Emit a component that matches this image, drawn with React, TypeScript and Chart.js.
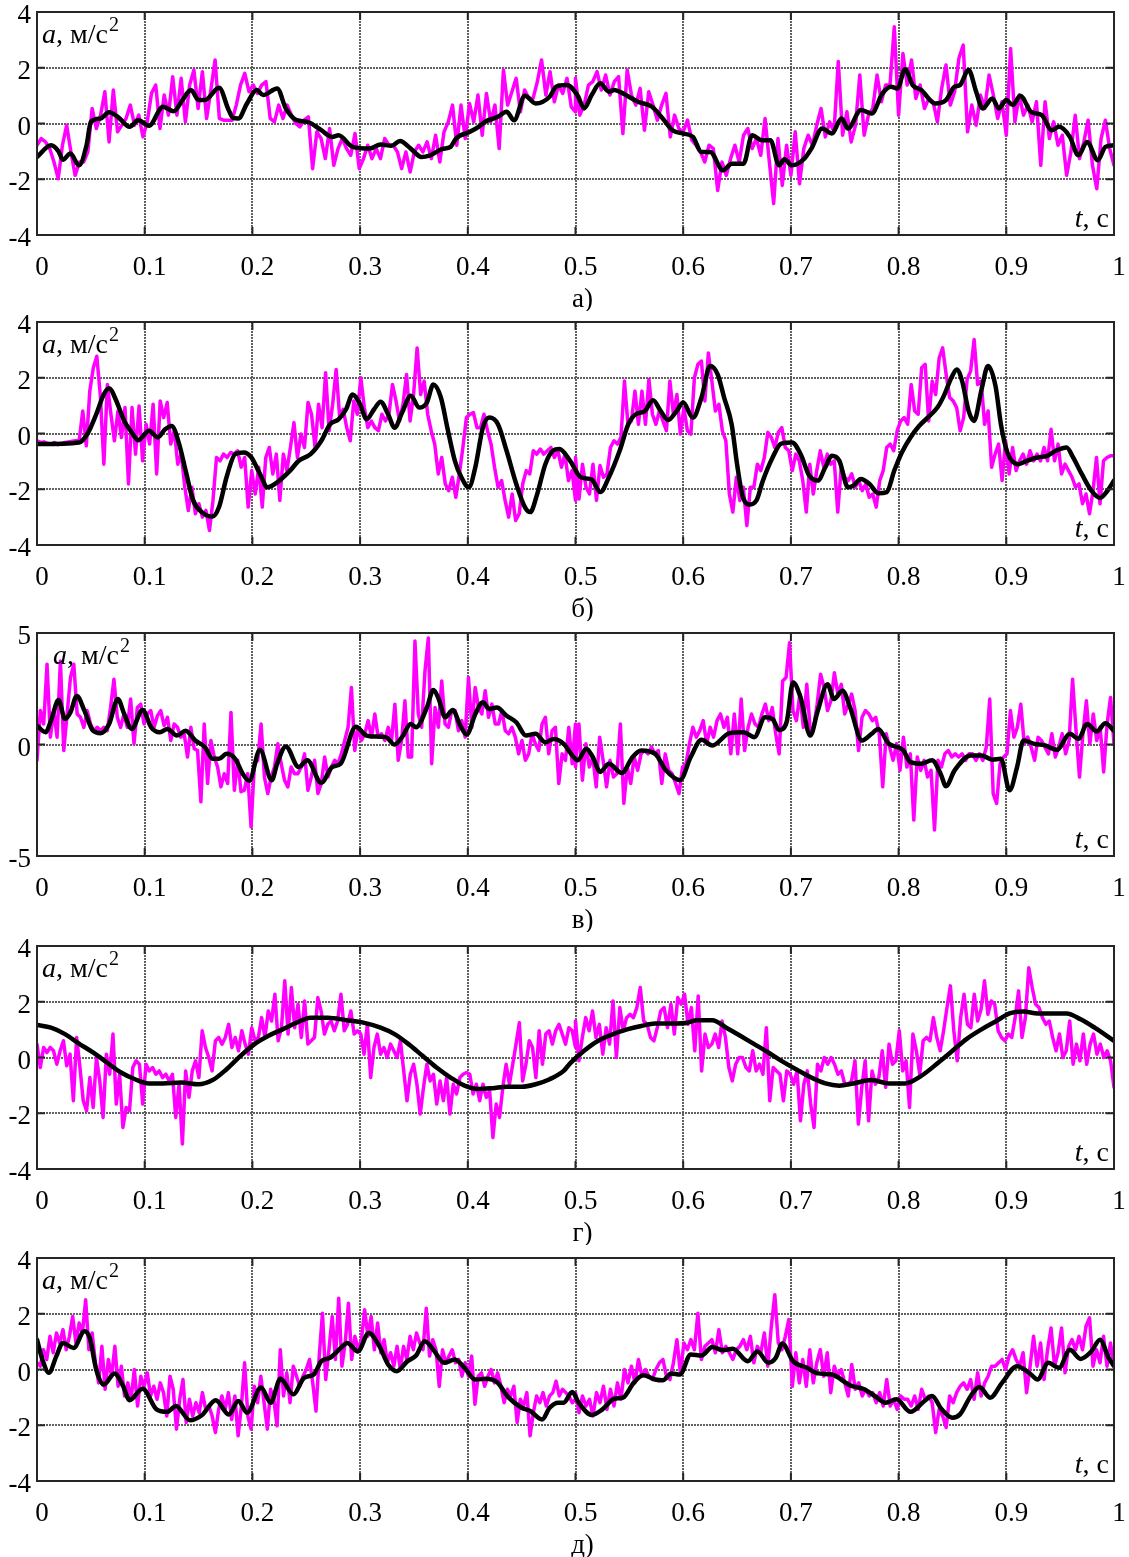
import React, { useEffect, useRef } from 'react';
import { Chart, registerables } from 'chart.js';
Chart.register(...registerables);

const FONT = "'Liberation Serif', 'Times New Roman', serif";

const xTickLabels = ['0', '0.1', '0.2', '0.3', '0.4', '0.5', '0.6', '0.7', '0.8', '0.9', '1'];
const captions = ['а)', 'б)', 'в)', 'г)', 'д)'];

// ---------- panel а ----------
const magA1 = [
  -0.78, -0.54, -0.66, -0.9, -1.38, -1.98, -0.78, -0.06, -1.02, -1.86,
  -1.38, -1.38, -1.02, 0.54, -0.18, 0.3, 1.14, -0.66, 1.2, -0.3,
  -0.06, 0.18, 0.66, -0.06, 0.3, -0.48, 0.06, 1.08, 1.38, -0.18,
  1.02, 0.3, 1.68, 0.3, 1.62, 0.06, 1.38, 1.92, 0.54, 1.86,
  0.18, 1.2, 2.28, 0.18, 0.12, 0.12, 0.12, 0.66, 1.38, 1.8,
  1.14, 1.38, 1.08, 1.38, 1.5, 0.18, 0.06, 0.66, 0.18, 0.66,
  0.3, 0, -0.12, 0.12, 0.24, -1.62, -0.3, -0.54, -1.26, -0.18,
  -1.5, -0.9, -0.54, -0.9, -1.14, -0.36, -1.62, -1.26, -0.78, -1.26,
  -0.9, -1.26, -0.54, -0.78, -0.78, -1.02, -1.62, -1.02, -1.74, -1.02,
  -0.78, -1.02, -0.66, -1.26, -0.42, -1.38, -0.3, 0.06, 0.66, -0.78,
  0.66, -0.54, 0.72, 0.06, 1.02, -0.42, 1.08, 0.06, 0.66, -0.9,
  1.92, 0.66, 1.14, 1.62, 0.42, 1.2, 0.9, 0.9, 1.5, 2.28,
  1.02, 1.86, 0.78, 1.38, 1.08, 1.62, 0.6, 0.42,
];
const magA2 = [
  1.62, 0.3, 0.66, 1.38, 1.5, 1.86, 1.2, 1.74, 1.02, 1.5,
  1.68, -0.36, 1.92, 1.02, 0.66, 1.26, -0.24, 1.14, 0.66, 0.12,
  0.66, 1.08, -0.48, 0.3, -0.18, -0.3, 0.12, -0.6, -0.78, -1.02,
  -1.38, -0.78, -0.9, -2.4, -1.38, -1.86, -1.26, -0.78, -1.38, -0.42,
  -0.18, -0.9, -0.54, -1.14, 0.18, -1.38, -2.87, -0.54, -2.22, -0.78,
  -1.86, -0.3, -2.16, -0.9, -0.42, -0.78, -0.06, 0.54, -0.48, 0.06,
  -0.3, 2.22, -0.42, 0.42, -0.66, -0.06, 1.74, -0.42, 0.3, 0.54,
  1.74, 0.78, 1.38, 1.38, 3.47, 0.3, 2.51, 1.38, 2.28, 0.9,
  1.38, 0.54, 0.9, 0.78, 0.06, 1.26, 2.1, 0.66, 1.14, 2.34,
  2.81, -0.3, 0.66, -0.06, 1.02, 0.54, 1.74, 1.02, 0.18, 0.78,
  -0.42, 2.69, 0.06, 1.02, 0.3, 0.66, 0.06, 0.78, -1.5, 0.78,
  -0.54, 0.06, -0.78, -0.42, -1.86, -1.02, 0.3, -1.26, -0.66, 0.12,
  -1.5, -2.34, -0.54, 0.12, -0.9, -1.5,
];
const blackA: [number, number][] = [
  [0, -1.2], [0.013, -0.78], [0.02, -1.0], [0.024, -1.3], [0.031, -1.08], [0.039, -1.5], [0.046, -0.78], [0.05, 0.06],
  [0.059, 0.18], [0.067, 0.4], [0.075, 0.24], [0.086, -0.12], [0.094, 0.12], [0.104, -0.08], [0.117, 0.6], [0.127, 0.44],
  [0.135, 0.84], [0.143, 1.2], [0.15, 0.84], [0.156, 0.84], [0.169, 1.28], [0.178, 0.48], [0.182, 0.2], [0.187, 0.18],
  [0.195, 0.72], [0.204, 1.2], [0.21, 1.02], [0.223, 1.26], [0.231, 0.54], [0.241, 0.12], [0.251, 0.06], [0.264, -0.24],
  [0.274, -0.48], [0.28, -0.42], [0.293, -0.84], [0.309, -0.9], [0.319, -0.75], [0.329, -0.8], [0.337, -0.63], [0.347, -0.9],
  [0.357, -1.2], [0.365, -1.14], [0.376, -0.92], [0.384, -0.84], [0.389, -0.54], [0.402, -0.3], [0.41, -0.12], [0.417, 0.08],
  [0.428, 0.24], [0.436, 0.42], [0.443, 0.12], [0.453, 1.0], [0.463, 0.72], [0.476, 0.96], [0.482, 1.32], [0.492, 1.38],
  [0.502, 1.0], [0.508, 0.54], [0.515, 1.02], [0.523, 1.44], [0.531, 1.14], [0.536, 1.2], [0.544, 1.08], [0.558, 0.78],
  [0.571, 0.6], [0.581, 0.18], [0.59, -0.24], [0.6, -0.36], [0.609, -0.48], [0.617, -1.02], [0.625, -1.02], [0.637, -1.68],
  [0.645, -1.44], [0.656, -1.44], [0.664, -0.42], [0.673, -0.6], [0.681, -0.6], [0.689, -1.5], [0.694, -1.28], [0.701, -1.5],
  [0.712, -1.28], [0.719, -0.9], [0.729, -0.18], [0.738, -0.36], [0.747, 0.18], [0.753, -0.18], [0.765, 0.48], [0.775, 0.36],
  [0.785, 1.08], [0.793, 1.32], [0.799, 1.26], [0.806, 1.95], [0.813, 1.38], [0.821, 1.2], [0.834, 0.72], [0.844, 0.84],
  [0.852, 1.32], [0.857, 1.38], [0.865, 1.92], [0.872, 1.14], [0.878, 0.54], [0.887, 0.9], [0.893, 0.54], [0.9, 0.84],
  [0.906, 0.66], [0.913, 1.0], [0.923, 0.42], [0.933, 0.3], [0.942, -0.24], [0.949, -0.12], [0.959, -0.48], [0.967, -1.14],
  [0.975, -0.66], [0.985, -1.32], [0.992, -0.84], [1.0, -0.78],
];

// ---------- panel б ----------
const magB1 = [
  -0.26, -0.32, -0.3, -0.36, -0.38, -0.32, -0.4, -0.36, -0.32, -0.3, -0.28, -0.26, -0.24,
  0.81, -0.44, 1.52, 2.36, 2.77, 1.35, -1.1, 1.76, 0.69, -0.26,
  0.81, -0.14, 0.93, -1.81, 0.93, -0.74, 0.99, -0.98, 0.33, -0.38,
  1.05, -1.45, 1.17, 0.57, 1.11, -0.38, 0.1, -1.1, -0.74, -1.93,
  -2.76, -1.93, -2.88, -2.52, -3.0, -2.76, -3.48, -2.4, -0.86, -0.98,
  -0.74, -0.86, -0.68, -0.74, -0.62, -1.21, -0.86, -2.64, -1.33, -2.17,
  -1.21, -2.64, -0.86, -0.5, -1.45, -0.74, -2.4, -0.74, -1.33, -0.5,
  0.39, -0.86, -0.02, -0.5, 1.11, 0.69, -0.5, 1.05, 0.21, 2.18,
  0.1, 1.05, 2.3, 0.57, 0.87, 0.21, -0.26, 1.17, 0.69, 2.0,
  0.93, 0.21, 0.45, 0.21, 0.1, 0.69, 0.45, 0.69, 1.76, 1.17,
  0.45, 1.05, 2.12, 0.45, 1.4, 3.07, 1.4, 1.88, 0.69, 0.1,
  -0.38, -1.45, -0.86, -1.81, -2.05, -1.57, -2.29, -1.45, -0.5, 0.57,
  0.69, 0.75, 0.21, 0.21, 0.69, 0.1, -0.38, -1.21, -1.93, -1.69,
  -2.4, -3.0, -2.17, -3.12, -2.88, -1.81, -1.33, -1.45, -0.62, -0.74,
  -0.56, -0.74, -0.62, -0.5, -0.86, -0.62, -1.21, -0.74, -1.69, -1.33, -2.4,
];
const magB2 = [
  -0.86, -2.35, -1.1, -1.93, -2.17, -1.1, -2.4, -1.15, -1.57, -1.45,
  -0.5, -0.26, -0.38, -0.14, 1.88, 0.33, 0.45, 1.52, 0.33, 1.52,
  0.33, 1.94, 0.69, 0.33, 0.81, 0.45, 0.1, 1.88, 0.69, 1.4,
  -0.02, 0.93, 0.1, -0.02, 2.0, 2.48, 2.6, 1.17, 2.89, 1.88,
  0.81, 1.05, 0.1, -0.26, -2.17, -2.82, -1.57, -2.4, -1.93, -3.3,
  -1.93, -1.93, -1.1, -1.33, -0.86, 0.04, -0.14, -0.5, 0.04, 0.21,
  -0.5, -0.62, -1.33, -0.74, -0.98, -1.69, -2.82, -1.1, -2.17, -1.33,
  -0.62, -1.21, -0.74, -1.1, -0.98, -2.82, -1.21, -1.57, -1.69, -1.45,
  -1.93, -1.69, -2.05, -1.81, -2.29, -2.17, -2.64, -1.69, -1.33, -0.5,
  -0.38, -0.62, 0.1, 0.45, 0.57, 0.33, 1.76, 0.81, 0.69, 2.36,
  2.48, 0.45, 1.88, 1.4, 2.71, 3.07, 2.12, 1.29, 1.17, 0.93,
  0.1, 0.57, 1.94, 2.24, 3.37, 1.76, 1.88, 0.33, 0.81, -1.21,
  -0.74, -0.38, -1.69, -0.26, -1.45, -0.5, -1.33, -0.98, -0.74, -1.1,
  -0.62, -0.98, -0.74, -0.98, -0.5, -0.98, 0.15, -0.98, -0.38, -1.45,
  -1.1, -1.33, -1.57, -1.93, -1.81, -2.52, -2.17, -2.88, -2.05, -0.86,
  -2.52, -0.98, -0.86, -0.8, -0.8,
];
const blackB: [number, number][] = [
  [0, -0.38], [0.039, -0.32], [0.047, 0], [0.055, 0.69], [0.062, 1.4], [0.067, 1.62], [0.073, 1.23], [0.081, 0.45],
  [0.088, 0.04], [0.094, -0.24], [0.104, 0.1], [0.112, -0.14], [0.119, 0.15], [0.125, 0.27], [0.132, -0.38], [0.138, -1.33],
  [0.145, -2.4], [0.153, -2.82], [0.163, -2.98], [0.169, -2.64], [0.176, -1.57], [0.184, -0.74], [0.192, -0.68], [0.199, -0.86],
  [0.207, -1.45], [0.214, -1.93], [0.221, -1.81], [0.235, -1.33], [0.243, -0.98], [0.254, -0.74], [0.264, -0.26], [0.272, 0.33],
  [0.28, 0.51], [0.287, 0.87], [0.293, 1.4], [0.3, 1.05], [0.306, 0.51], [0.313, 0.87], [0.319, 1.14], [0.326, 0.69],
  [0.332, 0.21], [0.339, 0.75], [0.347, 1.35], [0.355, 0.93], [0.362, 1.11], [0.368, 1.76], [0.375, 1.29], [0.381, 0.21],
  [0.388, -0.98], [0.394, -1.57], [0.401, -1.93], [0.407, -1.21], [0.414, 0.21], [0.42, 0.57], [0.428, 0.33], [0.436, -0.62],
  [0.445, -1.81], [0.453, -2.64], [0.458, -2.82], [0.464, -2.23], [0.472, -1.1], [0.479, -0.62], [0.485, -0.56], [0.495, -0.98],
  [0.505, -1.57], [0.515, -1.65], [0.523, -2.1], [0.531, -1.57], [0.541, -0.62], [0.549, 0.33], [0.556, 0.69], [0.564, 0.79],
  [0.572, 1.19], [0.579, 0.81], [0.586, 0.48], [0.594, 0.81], [0.6, 1.11], [0.609, 0.57], [0.617, 1.29], [0.625, 2.42],
  [0.632, 2.12], [0.638, 1.29], [0.645, 0.33], [0.65, -1.1], [0.655, -2.23], [0.661, -2.55], [0.668, -2.4], [0.674, -1.69],
  [0.683, -0.86], [0.691, -0.36], [0.701, -0.32], [0.709, -0.74], [0.717, -1.51], [0.725, -1.69], [0.732, -1.21], [0.738, -0.8],
  [0.745, -0.98], [0.753, -1.93], [0.758, -1.87], [0.765, -1.63], [0.773, -1.81], [0.781, -2.14], [0.789, -2.1], [0.796, -1.33],
  [0.803, -0.68], [0.811, -0.14], [0.819, 0.27], [0.827, 0.57], [0.836, 0.93], [0.842, 1.35], [0.849, 2.0], [0.854, 2.3],
  [0.859, 1.88], [0.865, 0.81], [0.87, 0.45], [0.877, 1.58], [0.883, 2.42], [0.89, 1.7], [0.895, 0.33], [0.901, -0.68],
  [0.911, -1.1], [0.919, -0.98], [0.929, -0.86], [0.938, -0.8], [0.946, -0.62], [0.956, -0.5], [0.962, -0.86], [0.97, -1.45],
  [0.979, -2.05], [0.987, -2.31], [0.993, -2.1], [1.0, -1.69],
];

// ---------- panel в ----------
const magC1 = [
  -0.71, 1.52, 0.92, 3.6, 0.33, 1.52, 0.33, 3.74, -0.27, 1.37,
  3.0, 3.6, 1.37, 1.22, 0.77, 1.52, 0.92, 0.62, 0.77, 0.62,
  0.77, 0.62, 1.66, 2.93, 1.22, 0.77, 1.37, 0.77, 2.04, 0.03,
  1.66, 1.81, 0.92, 1.37, 1.52, 0.77, 1.29, 1.52, 0.85, 1.22,
  0.18, 0.92, 0.77, 0.33, 0.48, -0.56, 0.77, -0.19, -0.27, -2.57,
  0.92, -1.75, 0.18, -0.56, -1.01, -1.9, -1.31, -1.75, 1.44, -2.05,
  -0.71, -2.12, -2.05, -1.31, -3.69, -0.86, -0.71, 0.92, -1.46, -2.2,
  -1.46, -1.01, 0.03, -0.86, -1.6, -1.9, -1.01, -1.31, -1.31, -1.01,
  -0.42, -2.05, -1.46, -0.71, -2.2, -1.75, -0.56, -1.46, -1.01, -0.71,
  -0.86, -0.42, 0.18, 0.77, 2.56, -0.27, 0.77, 0.18, 0.48, 1.07,
  0.33, 1.37, 0.33, 0.48, 0.18, 0.77, 0.18, 1.81, -0.71, 0.18,
  1.96, -0.56, -0.56, 4.64, 1.37, 0.77, 3.3, 4.78, -0.86, 1.66,
  0.77, 2.85, 0.92, 0.77, 1.52, 1.52, 0.62, 1.07, 0.33, 3.0,
  0.77, 2.56, 1.66, 1.37, 2.41, 1.22, 1.81, 0.92, 0.92, 1.52,
  0.62, 0.48, 0.77, 0.33, -0.42, 0.18, -0.71, -0.42, 0.48, 0.03,
  -0.27, 0.92, 1.22, -0.42, 0.62, 0.77, -1.75, -0.42, -0.71, 0.77,
  -0.86, 0.92,
];
const magC2 = [
  -1.01, 0.92, -1.6, 0.03, -1.01, -0.56, -1.9, 0.33, -0.71, -1.9,
  -0.71, -1.46, -1.31, 0.92, -2.64, -1.01, -1.75, -0.56, -1.16, -0.42,
  -0.27, -0.42, -0.12, -0.42, -0.27, -1.75, -0.42, -1.16, -1.31, -1.75,
  -2.2, -1.01, -0.86, 0.03, 0.77, 0.33, 0.62, 1.07, 0.03, 0.77,
  0.33, 1.07, 1.37, 0.77, 1.22, -0.42, 1.37, -0.42, 2.04, -0.27,
  0.77, 1.37, 0.92, 0.77, 1.37, 1.81, 1.07, 1.66, 0.48, -0.42,
  2.85, 3.0, 4.56, 1.52, 1.07, 2.26, 0.77, 2.7, 0.62, 0.77,
  1.81, 3.15, 2.56, 1.52, 1.96, 3.22, 2.26, 2.7, 1.37, 1.81,
  2.26, 1.52, -0.27, 1.22, 1.52, 1.37, 1.07, 1.22, 0.48, -1.9,
  0.48, -0.12, -0.71, 0.03, -1.16, 0.33, -1.01, -0.42, -3.39, -0.56,
  -1.16, -0.71, -1.46, -1.16, -3.83, -0.71, -1.01, -0.42, -0.27, -0.56,
  -0.42, -0.56, -0.42, -0.71, -0.42, -0.42, -0.71, -0.42, -0.71, -0.12,
  2.04, -2.2, -2.64, -0.86, -0.56, -0.42, 1.52, 0.33, 0.77, 1.81,
  0.03, 0.33, -0.12, -0.71, 0.33, 0.18, -0.12, -0.42, 0.48, -0.56,
  -0.12, 0.48, -0.42, 0.18, 2.93, 0.62, -1.46, 0.48, 1.96, 0.03,
  1.37, 0.18, 0.77, -1.23, 0.92, 2.11, 0.03,
];
const blackC: [number, number][] = [
  [0, 0.85], [0.008, 0.55], [0.013, 1.07], [0.02, 1.99], [0.026, 1.14], [0.031, 1.44], [0.037, 2.18], [0.044, 1.52],
  [0.052, 0.62], [0.059, 0.51], [0.067, 0.92], [0.075, 2.04], [0.081, 1.37], [0.088, 0.7], [0.098, 1.55], [0.106, 0.77],
  [0.114, 0.55], [0.121, 0.7], [0.13, 0.4], [0.138, 0.62], [0.147, 0.18], [0.156, -0.12], [0.163, -0.64], [0.169, -0.64],
  [0.176, -0.42], [0.184, -0.64], [0.191, -1.31], [0.197, -1.63], [0.207, -0.24], [0.218, -1.6], [0.223, -0.86], [0.231, -0.09],
  [0.243, -1.01], [0.251, -0.71], [0.264, -1.72], [0.274, -1.01], [0.282, -0.86], [0.296, 0.8], [0.306, 0.4], [0.314, 0.36],
  [0.324, 0.33], [0.332, 0], [0.339, 0.33], [0.347, 0.92], [0.352, 0.77], [0.362, 1.66], [0.368, 2.44], [0.373, 2.04],
  [0.379, 1.22], [0.386, 1.55], [0.393, 0.85], [0.399, 0.45], [0.407, 1.37], [0.414, 1.89], [0.42, 1.59], [0.427, 1.66],
  [0.436, 1.29], [0.445, 1.0], [0.454, 0.4], [0.463, 0.48], [0.472, 0.1], [0.48, 0.25], [0.489, 0.03], [0.497, -0.49],
  [0.502, -0.71], [0.51, -0.19], [0.516, -0.56], [0.523, -1.23], [0.531, -0.86], [0.543, -1.28], [0.553, -0.56], [0.561, -0.27],
  [0.574, -0.42], [0.584, -1.16], [0.597, -1.6], [0.607, -0.56], [0.617, 0.21], [0.627, -0.04], [0.643, 0.51], [0.656, 0.55],
  [0.666, 0.33], [0.676, 1.22], [0.683, 1.14], [0.689, 0.65], [0.696, 1.0], [0.702, 2.78], [0.709, 2.11], [0.718, 0.4],
  [0.725, 1.52], [0.734, 2.7], [0.74, 2.04], [0.748, 2.41], [0.755, 1.66], [0.766, 0.18], [0.775, 0.48], [0.781, 0.7],
  [0.791, 0.03], [0.804, -0.24], [0.811, -0.79], [0.821, -0.86], [0.831, -0.71], [0.839, -1.31], [0.844, -1.87], [0.852, -1.16],
  [0.867, -0.49], [0.877, -0.49], [0.887, -0.68], [0.895, -0.64], [0.903, -2.05], [0.91, -1.01], [0.916, 0.18], [0.926, 0.03],
  [0.936, -0.04], [0.947, -0.24], [0.959, 0.48], [0.967, 0.25], [0.975, 0.92], [0.984, 0.59], [0.992, 0.95], [1.0, 0.62],
];

// ---------- panel г ----------
const magD1 = [
  0.48, -0.36, 0.36, 0.18, 0.36, 0.24, -0.24, 0.24, 0.6, -0.3,
  0.12, -1.55, 0.72, -0.36, -1.55, -1.91, -0.72, -1.79, 0, -0.84,
  -2.15, 0.12, -0.6, 0.84, -1.67, -0.6, -2.51, -1.79, -1.91, -0.36,
  -0.12, -0.24, -1.67, -0.24, -0.48, -0.36, -0.6, -0.48, -0.72, -0.6,
  -0.84, -0.6, -2.15, -0.96, -3.1, -0.48, -1.43, -0.48, -0.12, -0.72,
  0.96, 0.36, 0, -0.48, 0.6, 0.72, 0.48, 0.72, 1.19, 0.36,
  0.72, 0.24, 0.96, 0.48, 0.12, 1.07, 0.6, 0.72, 1.43, 0.72,
  1.67, 1.31, 2.27, 0.6, 1.07, 2.75, 0.84, 2.51, 1.07, 1.91,
  0.72, 2.03, 0.48, 0.6, 0.72, 2.15, 1.67, 0.84, 1.19, 1.31,
  0.96, 1.31, 2.27, 0.96, 1.19, 1.67, 0.84, 0.96, 0.84, 0.12,
  1.19, -0.72, 0.36, 0.84, 0.12, 0.36, 0, 0.48, 0.24, 0,
  0.6, -0.48, -1.55, -0.6, -0.24, -0.96, -2.03, -1.07, -0.24, -0.84,
  -0.6, -1.67, -0.84, -1.55, -0.72, -2.03, -0.96, -1.31, -0.72, -0.6,
  -0.54, -0.6, -1.31, -0.96, -1.55, -0.96, -1.43, -1.19, -2.87, -1.67,
  -2.15, -1.07, -0.24, -0.96, -0.24, 0.48, 1.25, -0.84, -0.24, 0.6,
  0.36, -0.72, 0.96, -0.24, 0.84, 0.96, 0.48, 0.96, 1.19, 0.84,
  0.48, 1.07, 0.96, 0.36,
];
const magD2 = [
  1.31, -0.12, 0.72, 1.43, 0.96, 1.67, 0.72, 1.19, 0.12, 1.07,
  0.48, 2.03, 0, 1.79, 0.96, 1.43, 1.55, 1.43, 1.79, 2.51,
  1.31, 1.19, 0.72, 0.6, 1.07, 1.67, 1.79, 1.07, 1.91, 0.84,
  2.15, 1.91, 2.27, 1.19, 1.79, 0.24, 2.21, -0.48, 0.84, 0.36,
  0.48, 0.84, 0.36, 1.31, 0.72, -0.36, -0.84, -0.24, 0, 0,
  -0.36, -0.48, 0.24, -0.48, -0.24, -0.6, 1.07, -1.55, -0.36, -0.48,
  -0.6, -1.55, -0.48, -0.6, -0.96, -0.48, -2.27, -0.96, -0.48, -1.67,
  -2.51, -0.24, -0.48, 0, -0.24, 0, -0.24, -0.6, -0.48, -0.96,
  -0.96, -0.84, -0.12, -2.39, -1.07, -0.12, -2.27, -0.48, -0.96, -0.72,
  0.24, -1.07, 0.48, -0.24, -0.12, 0.96, -0.48, -0.12, -1.79, 0.84,
  0.24, -0.6, 0.6, 0.72, 0.6, 1.43, 0.72, 0.24, 0.96, 1.79,
  2.57, 0.96, -0.12, 1.43, 2.27, 1.19, 1.07, 2.27, 1.31, 1.73,
  2.75, 1.55, 2.03, 1.91, 0.96, 0.72, 0.6, 0.84, 0.72, 1.43,
  2.39, 0.72, 1.43, 3.22, 2.51, 1.91, 1.79, 1.43, 1.19, 1.31,
  0.72, 0.24, 0.84, 0, 0.24, 1.31, -0.24, 0.48, -0.12, 0.84,
  -0.24, 0.48, 0.84, 0.12, 0.48, 0, 0.24, -0.12, -1.07,
];
const blackD: [number, number][] = [
  [0, 1.17], [0.013, 1.07], [0.026, 0.84], [0.039, 0.5], [0.052, 0.18], [0.065, -0.18], [0.078, -0.54], [0.091, -0.78],
  [0.104, -0.93], [0.117, -0.93], [0.134, -0.9], [0.15, -0.96], [0.163, -0.81], [0.176, -0.42], [0.189, 0.06], [0.202, 0.48],
  [0.215, 0.78], [0.228, 1.01], [0.241, 1.25], [0.254, 1.43], [0.27, 1.43], [0.287, 1.34], [0.303, 1.25], [0.319, 1.07],
  [0.332, 0.84], [0.345, 0.48], [0.358, 0.06], [0.371, -0.36], [0.384, -0.72], [0.397, -1.01], [0.41, -1.13], [0.423, -1.1],
  [0.436, -1.05], [0.45, -1.05], [0.463, -0.96], [0.476, -0.78], [0.489, -0.48], [0.495, -0.21], [0.508, 0.24], [0.521, 0.6],
  [0.535, 0.84], [0.548, 1.01], [0.561, 1.13], [0.574, 1.22], [0.59, 1.22], [0.604, 1.25], [0.613, 1.34], [0.627, 1.34],
  [0.64, 1.07], [0.653, 0.78], [0.666, 0.48], [0.679, 0.18], [0.692, -0.14], [0.706, -0.45], [0.719, -0.72], [0.732, -0.93],
  [0.745, -1.01], [0.758, -0.93], [0.775, -0.81], [0.791, -0.93], [0.806, -0.93], [0.821, -0.66], [0.837, -0.18], [0.85, 0.24],
  [0.863, 0.66], [0.877, 1.01], [0.89, 1.29], [0.903, 1.58], [0.916, 1.65], [0.929, 1.58], [0.942, 1.58], [0.956, 1.58],
  [0.969, 1.37], [0.982, 1.07], [1.0, 0.6],
];

// ---------- panel д ----------
const magE1 = [
  0.24, 0.12, 0.71, 0.36, 1.19, 0.6, 1.31, 0.95, 1.43, 0.71,
  1.19, 1.9, 0.95, 1.67, 1.31, 2.5, 0.71, 1.31, 0.24, -0.48,
  0.83, -0.71, 0.36, -0.24, 0.83, -0.6, 0.12, -0.95, -0.48, -1.07,
  0, -1.31, -0.24, -0.6, -0.12, -0.95, -0.6, -1.07, -0.48, -0.83,
  -1.67, -0.24, -0.71, -2.14, -1.07, -0.36, -1.9, -1.07, -1.67, -1.19,
  -1.55, -0.83, -1.43, -1.31, -1.67, -2.26, -1.43, -0.95, -1.43, -0.83,
  -1.79, -0.95, -2.38, -1.31, 0.24, -1.67, -2.14, -0.6, -1.19, -0.24,
  -1.19, -2.14, -0.71, -1.07, -2.02, 0.71, -0.95, -0.12, -1.19, 0.12,
  -0.24, -0.6, -0.24, 0, 0.36, -0.48, -1.49, 0.48, 2.02, -0.36,
  0.71, 1.9, 0.36, 2.56, 0.12, 0.95, 2.38, 0.36, 1.19, 0.71,
  1.07, 2.14, 1.19, 1.9, 0.71, 1.67, 0.6, 1.07, 0.24, 0.6,
  0.12, 0.83, 0, 0.83, 0.36, 1.19, 0.71, 1.31, 0.95, 0.71,
  2.2, 0.48, 1.07, 0.71, -0.6, 0.71, 0.24, 0.48, 0.71, 0.24,
  0.36, -0.24, 0.24, -0.24, 0.48, -1.25, -0.24, -0.12, -0.6, -0.24,
  0, -0.48, -0.12, -0.6, -1.19, -0.71, -0.95, -0.6, -1.9, -1.07,
  -1.31, -0.83, -2.38, -1.55, -0.95, -1.19, -0.83, -1.31, -0.95, -0.83,
  -0.42, -0.95, -0.71, -0.83, -0.95, -1.19, -1.07,
];
const magE2 = [
  -0.83, -1.55, -0.95, -1.31, -1.07, -1.67, -0.83, -1.19, -0.6, -1.43,
  -0.71, -1.31, -0.48, -1.07, 0, -0.48, 0.12, -0.48, 0.36, -0.24,
  0, -0.24, -0.36, 0, 0.24, 0.36, -0.24, -0.36, 0.24, 1.07,
  -0.12, 0.95, 0.71, 1.07, 0.71, 2.02, 0.36, 0.83, 0.95, 1.07,
  0.6, 1.43, 0.6, 0.83, 0.6, 0.36, 0.71, 0.83, 1.07, 0.71,
  1.19, 0.24, 0.83, 0.6, 1.31, 0.12, 1.55, 2.68, 0.95, 0.71,
  1.19, 1.79, -0.6, 0.6, -0.48, 0.36, -0.6, 0.71, -0.48, 0.24,
  0.71, -0.24, 0.6, -0.83, 0.12, -0.24, 0, -0.48, -0.95, 0.18,
  -0.71, -0.48, -0.95, -0.71, -0.95, -0.83, -1.19, -0.83, -1.31, -0.36,
  -1.31, -1.07, -1.43, -0.95, -1.07, -1.07, -1.31, -0.95, -1.43, -0.71,
  -1.07, -0.95, -1.19, -2.26, -1.43, -1.67, -2.08, -0.95, -1.19, -0.83,
  -0.6, -0.48, -0.71, -0.36, -1.07, -0.12, -0.95, -0.48, -0.24, 0.12,
  0.12, 0.24, 0.36, 0, 0.48, 0.71, 0.36, 0.12, 0.6, -0.83,
  0.12, 1.19, 0.12, 0.95, -0.36, 0.71, 1.49, 0.12, 0.6, 1.49,
  -0.12, 0.83, 1.07, 0.71, 1.19, 0.71, 1.55, 1.85, 0.12, 0.71,
  0.24, 1.19, 0.12, 0.95, 0.12,
];
const blackE: [number, number][] = [
  [0, 1.07], [0.005, 0.36], [0.011, -0.12], [0.018, 0.48], [0.024, 0.95], [0.034, 0.77], [0.044, 1.37], [0.049, 1.13],
  [0.055, 0], [0.062, -0.54], [0.072, -0.14], [0.08, -0.6], [0.086, -1.1], [0.098, -0.69], [0.111, -1.43], [0.121, -1.52],
  [0.129, -1.31], [0.142, -1.82], [0.153, -1.64], [0.166, -1.1], [0.178, -1.61], [0.187, -1.13], [0.195, -1.55], [0.208, -0.65],
  [0.217, -1.19], [0.226, -0.33], [0.238, -0.89], [0.248, -0.3], [0.257, -0.18], [0.264, 0.3], [0.272, 0.42], [0.282, 0.77],
  [0.288, 0.95], [0.298, 0.65], [0.308, 1.31], [0.318, 0.83], [0.326, 0.18], [0.334, -0.06], [0.344, 0.3], [0.352, 0.5],
  [0.36, 1.01], [0.368, 0.71], [0.378, 0.24], [0.388, 0.36], [0.397, 0.06], [0.407, -0.36], [0.417, -0.33], [0.427, -0.45],
  [0.438, -1.01], [0.45, -1.37], [0.458, -1.49], [0.469, -1.79], [0.476, -1.37], [0.484, -1.19], [0.489, -1.19], [0.497, -0.81],
  [0.503, -1.19], [0.515, -1.63], [0.525, -1.43], [0.536, -1.05], [0.544, -1.01], [0.554, -0.48], [0.563, -0.21], [0.574, -0.36],
  [0.581, -0.39], [0.589, -0.14], [0.597, -0.18], [0.607, 0.54], [0.617, 0.5], [0.627, 0.81], [0.637, 0.69], [0.646, 0.74],
  [0.66, 0.3], [0.669, 0.65], [0.679, 0.24], [0.686, 0.42], [0.692, 0.93], [0.702, 0.3], [0.715, 0.06], [0.725, -0.14],
  [0.738, -0.18], [0.755, -0.57], [0.768, -0.71], [0.778, -0.95], [0.788, -1.19], [0.798, -1.07], [0.811, -1.52], [0.824, -1.13],
  [0.831, -0.95], [0.84, -1.43], [0.85, -1.73], [0.857, -1.61], [0.867, -0.95], [0.875, -0.63], [0.885, -1.01], [0.896, -0.48],
  [0.91, 0.12], [0.923, -0.18], [0.929, -0.36], [0.939, 0.24], [0.949, 0.06], [0.959, 0.71], [0.969, 0.38], [0.979, 0.65],
  [0.987, 1.07], [0.995, 0.42], [1.0, 0.12],
];

type PanelDef = {
  caption: string;
  mag1: number[];
  mag2: number[];
  black: [number, number][];
  yMin: number;
  yMax: number;
  yStep: number;
  labelDx: number;
};

const panels: PanelDef[] = [
  { caption: captions[0], mag1: magA1, mag2: magA2, black: blackA, yMin: -4, yMax: 4, yStep: 2, labelDx: 5 },
  { caption: captions[1], mag1: magB1, mag2: magB2, black: blackB, yMin: -4, yMax: 4, yStep: 2, labelDx: 5 },
  { caption: captions[2], mag1: magC1, mag2: magC2, black: blackC, yMin: -5, yMax: 5, yStep: 5, labelDx: 16 },
  { caption: captions[3], mag1: magD1, mag2: magD2, black: blackD, yMin: -4, yMax: 4, yStep: 2, labelDx: 5 },
  { caption: captions[4], mag1: magE1, mag2: magE2, black: blackE, yMin: -4, yMax: 4, yStep: 2, labelDx: 5 },
];

const CANVAS_W = 1129;
const CANVAS_H = 311;
const canvasTops = [0, 310, 621, 934, 1246];

function halfSeries(vals: number[], start: number) {
  const n = vals.length;
  return vals.map((v, i) => ({ x: start + (0.5 * i) / (n - 1), y: v }));
}

const framePlugin = {
  id: 'frameAndLabels',
  afterDatasetsDraw(chart: any, _args: any, opts: any) {
    const { ctx, chartArea } = chart;
    const { left, top, right, bottom } = chartArea;
    const xs = chart.scales.x;
    const ys = chart.scales.y;
    ctx.save();
    ctx.strokeStyle = '#262626';
    ctx.lineWidth = 2;
    ctx.beginPath();
    xs.ticks.forEach((t: any) => {
      const px = xs.getPixelForValue(t.value);
      ctx.moveTo(px, bottom);
      ctx.lineTo(px, bottom - 8);
      ctx.moveTo(px, top);
      ctx.lineTo(px, top + 8);
    });
    ys.ticks.forEach((t: any) => {
      const py = ys.getPixelForValue(t.value);
      ctx.moveTo(left, py);
      ctx.lineTo(left + 8, py);
      ctx.moveTo(right, py);
      ctx.lineTo(right - 8, py);
    });
    ctx.stroke();
    ctx.strokeRect(left, top, right - left, bottom - top);

    // y-axis label: a, м/с²
    ctx.fillStyle = '#000';
    ctx.textAlign = 'left';
    ctx.textBaseline = 'alphabetic';
    let x = left + opts.labelDx;
    const y = top + 31;
    ctx.font = `italic 28px ${FONT}`;
    ctx.fillText('a', x, y);
    x += ctx.measureText('a').width;
    ctx.font = `28px ${FONT}`;
    ctx.fillText(', м/с', x, y);
    x += ctx.measureText(', м/с').width;
    ctx.font = `20px ${FONT}`;
    ctx.fillText('2', x + 1, y - 12);

    // x-axis label: t, с
    const by = bottom - 8;
    ctx.font = `28px ${FONT}`;
    const w2 = ctx.measureText(', с').width;
    ctx.fillText(', с', right - 5 - w2, by);
    ctx.font = `italic 28px ${FONT}`;
    const w1 = ctx.measureText('t').width;
    ctx.fillText('t', right - 5 - w2 - w1, by);

    // caption
    ctx.font = `27px ${FONT}`;
    ctx.textAlign = 'center';
    ctx.textBaseline = 'middle';
    ctx.fillText(opts.caption, (left + right) / 2 + 7, bottom + 65);
    ctx.restore();
  },
};

function Panel({ def, top }: { def: PanelDef; top: number }) {
  const ref = useRef<HTMLCanvasElement | null>(null);
  useEffect(() => {
    if (!ref.current) return;
    const magData = [...halfSeries(def.mag1, 0), ...halfSeries(def.mag2, 0.5)];
    const blackData = def.black.map(([t, v]) => ({ x: t, y: v }));
    const gridColor = 'rgba(80,80,80,0.9)';
    const chart = new Chart(ref.current, {
      type: 'line',
      data: {
        datasets: [
          {
            data: blackData,
            borderColor: '#000000',
            borderWidth: 4.5,
            pointRadius: 0,
            cubicInterpolationMode: 'monotone',
            order: 0,
          } as any,
          {
            data: magData,
            borderColor: '#ff00ff',
            borderWidth: 3.5,
            pointRadius: 0,
            tension: 0,
            order: 1,
          } as any,
        ],
      },
      options: {
        animation: false,
        responsive: false,
        maintainAspectRatio: false,
        layout: { padding: { top: 12, right: 15, left: 0, bottom: 0 } },
        elements: { line: { borderJoinStyle: 'round', borderCapStyle: 'round' } },
        plugins: {
          legend: { display: false },
          tooltip: { enabled: false },
          frameAndLabels: { caption: def.caption, labelDx: def.labelDx },
        } as any,
        scales: {
          x: {
            type: 'linear',
            min: 0,
            max: 1,
            ticks: {
              stepSize: 0.1,
              autoSkip: false,
              maxRotation: 0,
              padding: 17,
              labelOffset: 5,
              color: '#000',
              font: { family: FONT, size: 27 },
              callback: (v: any) => xTickLabels[Math.round(Number(v) * 10)],
            },
            grid: { color: gridColor, lineWidth: 2, drawTicks: false },
            border: { display: false, dash: [2, 1] },
            afterFit: (s: any) => {
              s.height = CANVAS_H - 12 - 223;
              s.paddingLeft = 0;
              s.paddingRight = 0;
            },
          },
          y: {
            type: 'linear',
            min: def.yMin,
            max: def.yMax,
            ticks: {
              stepSize: def.yStep,
              padding: 6,
              labelOffset: 4,
              color: '#000',
              font: { family: FONT, size: 27 },
              callback: (v: any) => String(v),
            },
            grid: { color: gridColor, lineWidth: 2, drawTicks: false },
            border: { display: false, dash: [2, 1] },
            afterFit: (s: any) => {
              s.width = 37;
              s.paddingTop = 0;
              s.paddingBottom = 0;
            },
          },
        },
      } as any,
      plugins: [framePlugin],
    });
    return () => chart.destroy();
  }, [def]);
  return (
    <canvas
      ref={ref}
      width={CANVAS_W}
      height={CANVAS_H}
      style={{ position: 'absolute', left: 0, top, width: CANVAS_W, height: CANVAS_H }}
    />
  );
}

export default function App() {
  return (
    <div style={{ position: 'absolute', left: 0, top: 0, width: CANVAS_W, height: 1557, background: '#ffffff' }}>
      {panels.map((p, i) => (
        <Panel key={i} def={p} top={canvasTops[i]} />
      ))}
    </div>
  );
}
